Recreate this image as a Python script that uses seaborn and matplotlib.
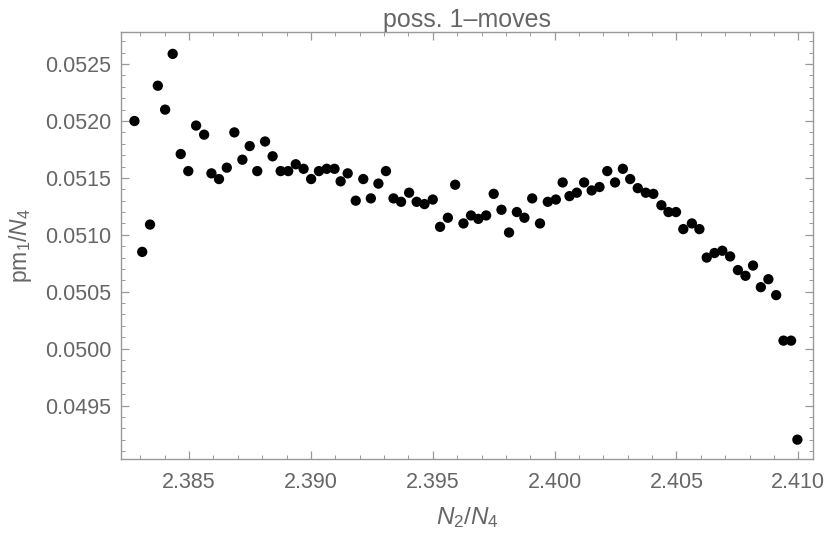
import numpy as np
import pandas as pd
import matplotlib
matplotlib.use("Agg")
import matplotlib.pyplot as plt
from matplotlib.ticker import MultipleLocator, FormatStrFormatter
import seaborn as sns

# N2/N4 values
n2_over_n4 = [
    2.38276, 2.38308, 2.38340, 2.38372, 2.38402, 2.38433, 2.38466, 2.38497,
    2.38529, 2.38562, 2.38592, 2.38623, 2.38655, 2.38686, 2.38719, 2.38749,
    2.38780, 2.38812, 2.38843, 2.38876, 2.38907, 2.38938, 2.38970, 2.39001,
    2.39033, 2.39065, 2.39097, 2.39122, 2.39151, 2.39184, 2.39215, 2.39246,
    2.39277, 2.39308, 2.39339, 2.39370, 2.39403, 2.39434, 2.39466, 2.39500,
    2.39530, 2.39562, 2.39592, 2.39626, 2.39657, 2.39687, 2.39719, 2.39750,
    2.39782, 2.39813, 2.39845, 2.39876, 2.39908, 2.39940, 2.39972, 2.40005,
    2.40033, 2.40061, 2.40091, 2.40121, 2.40152, 2.40184, 2.40216, 2.40248,
    2.40280, 2.40310, 2.40341, 2.40374, 2.40405, 2.40438, 2.40467, 2.40498,
    2.40528, 2.40563, 2.40594, 2.40624, 2.40656, 2.40688, 2.40720, 2.40752,
    2.40783, 2.40814, 2.40846, 2.40877, 2.40909, 2.40939, 2.40970, 2.40996,
]

# pm1/N4 values
pm1_over_n4 = [
    0.05200, 0.05085, 0.05109, 0.05231, 0.05210, 0.05259, 0.05171, 0.05156,
    0.05196, 0.05188, 0.05154, 0.05149, 0.05159, 0.05190, 0.05166, 0.05178,
    0.05156, 0.05182, 0.05169, 0.05156, 0.05156, 0.05162, 0.05158, 0.05149,
    0.05156, 0.05158, 0.05158, 0.05147, 0.05154, 0.05130, 0.05149, 0.05132,
    0.05145, 0.05156, 0.05132, 0.05129, 0.05137, 0.05129, 0.05127, 0.05131,
    0.05107, 0.05115, 0.05144, 0.05110, 0.05117, 0.05114, 0.05117, 0.05136,
    0.05122, 0.05102, 0.05120, 0.05115, 0.05132, 0.05110, 0.05129, 0.05131,
    0.05146, 0.05134, 0.05137, 0.05146, 0.05139, 0.05142, 0.05156, 0.05146,
    0.05158, 0.05149, 0.05141, 0.05137, 0.05136, 0.05126, 0.05120, 0.05120,
    0.05105, 0.05110, 0.05105, 0.05080, 0.05084, 0.05086, 0.05081, 0.05069,
    0.05064, 0.05073, 0.05054, 0.05061, 0.05047, 0.05007, 0.05007, 0.04920,
]

TEXT_GREY = "#666666"
FRAME_GREY = "#999999"

sns.set_theme(style="ticks")
plt.rcParams["font.family"] = ["Liberation Sans", "DejaVu Sans"]
plt.rcParams["mathtext.fontset"] = "custom"
plt.rcParams["mathtext.rm"] = "Liberation Sans"
plt.rcParams["mathtext.it"] = "Liberation Sans:italic"

df = pd.DataFrame({"x": n2_over_n4, "y": pm1_over_n4})

fig = plt.figure(figsize=(8.3, 5.4), dpi=100)
ax = fig.add_axes([0.1458, 0.15, 0.8337, 0.7907])

sns.scatterplot(data=df, x="x", y="y", ax=ax, color="black",
                s=55, edgecolor="none", linewidth=0, legend=False)

ax.set_xlim(2.38221, 2.41060)
ax.set_ylim(0.04903, 0.052782)

ax.xaxis.set_major_locator(MultipleLocator(0.005))
ax.xaxis.set_minor_locator(MultipleLocator(0.001))
ax.yaxis.set_major_locator(MultipleLocator(0.0005))
ax.yaxis.set_minor_locator(MultipleLocator(0.0001))
ax.xaxis.set_major_formatter(FormatStrFormatter("%.3f"))
ax.yaxis.set_major_formatter(FormatStrFormatter("%.4f"))

for side in ["top", "right", "bottom", "left"]:
    ax.spines[side].set_visible(True)
    ax.spines[side].set_color(FRAME_GREY)
    ax.spines[side].set_linewidth(1.0)

ax.tick_params(which="both", direction="in", top=True, right=True,
               color=FRAME_GREY, labelcolor=TEXT_GREY, labelsize=15.5)
ax.tick_params(which="major", length=5.5, width=0.9)
ax.tick_params(which="minor", length=3, width=0.7)
ax.tick_params(axis="x", which="major", pad=9)
ax.tick_params(axis="y", which="major", pad=7)

# Mathematica-style labels: a bit wider than the tick text
ax.set_xlabel(r"$N_2/N_4$", fontsize=17.5, color=TEXT_GREY, labelpad=9)
ax.set_ylabel(r"$\mathrm{pm}_1/N_4$", fontsize=16.5, color=TEXT_GREY, labelpad=8)
ax.set_title("poss. 1\u2013moves", fontsize=18, color=TEXT_GREY, pad=3)

fig.savefig("out.png", dpi=100)
